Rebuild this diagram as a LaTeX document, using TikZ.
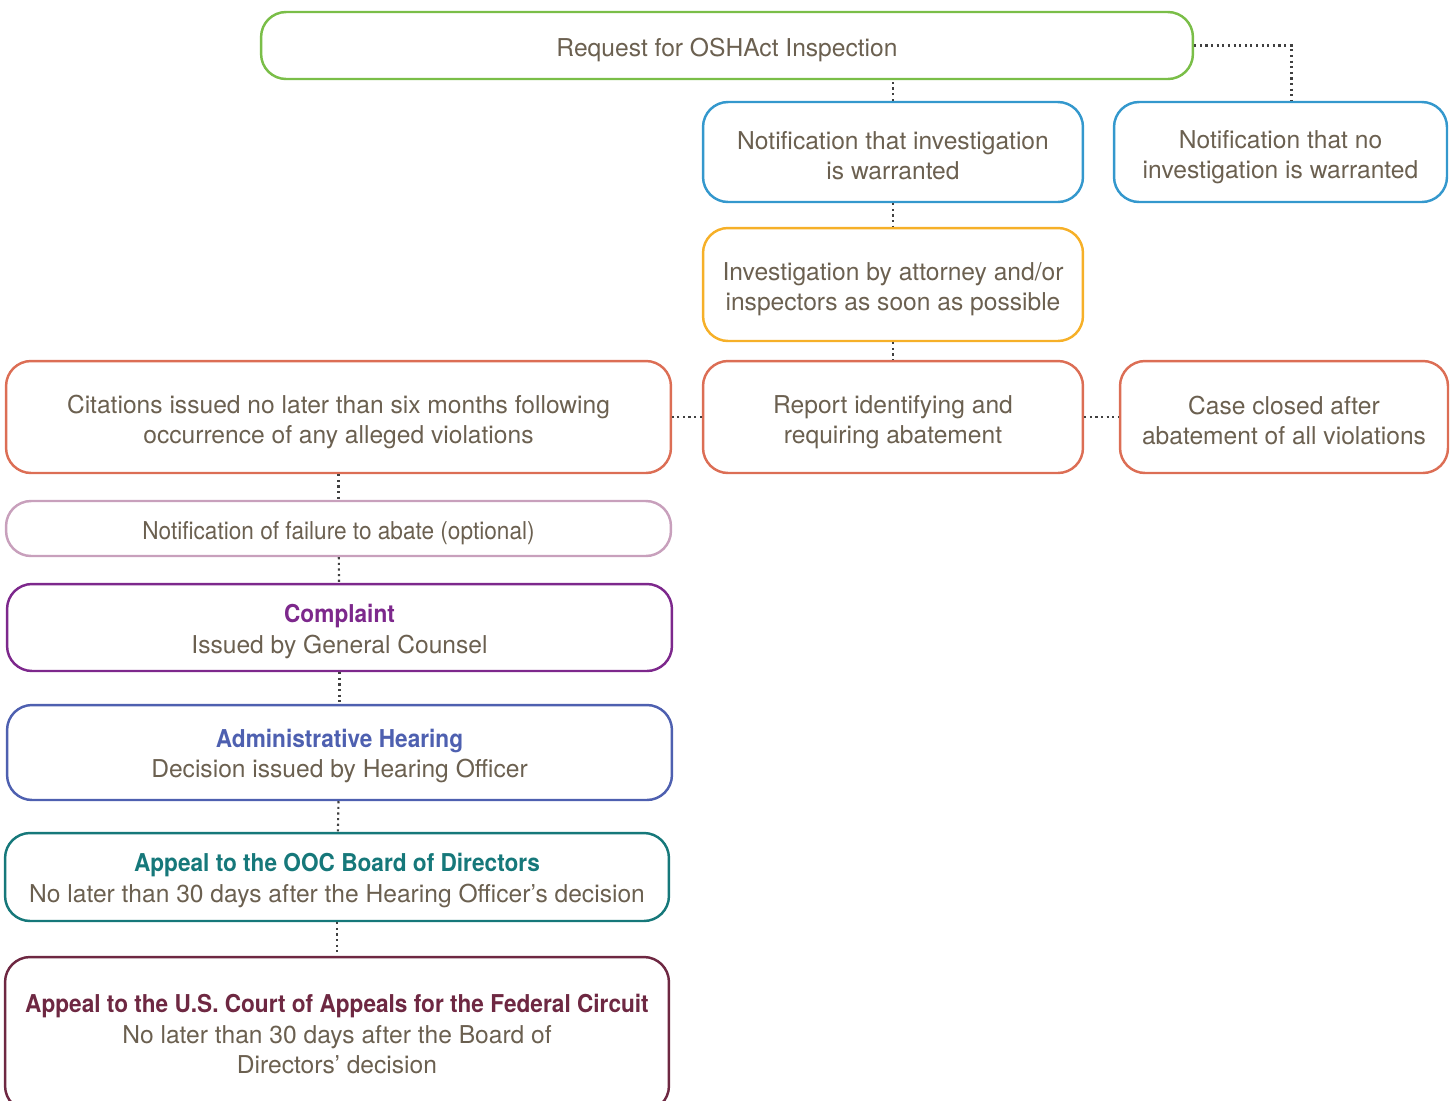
\documentclass[tikz,border=0pt]{standalone}
\usepackage{fontspec}
\setmainfont{TeX Gyre Heros}
\newfontfamily\condfont[FakeStretch=0.92]{TeX Gyre Heros}
\usetikzlibrary{positioning}
\definecolor{txtgray}{RGB}{107,96,80}
\definecolor{reqgreen}{RGB}{122,190,72}
\definecolor{notblue}{RGB}{52,152,205}
\definecolor{invorange}{RGB}{246,176,40}
\definecolor{repred}{RGB}{220,110,85}
\definecolor{failmauve}{RGB}{200,160,188}
\definecolor{cplpurple}{RGB}{125,40,140}
\definecolor{hearblue}{RGB}{78,96,176}
\definecolor{oocteal}{RGB}{22,120,122}
\definecolor{courtred}{RGB}{110,40,66}
\newcommand{\hd}[2]{{\condfont\bfseries\color{#1}#2}\\[0.6pt]}

\begin{document}
\begin{tikzpicture}[x=0.02cm,y=-0.02cm,font=\fontsize{14}{17}\selectfont\color{txtgray},
  stage/.style={draw,rounded corners=0.5cm,line width=1.4pt,align=center,inner sep=0pt,
    execute at begin node={\rule{0pt}{#1}}},
  stage/.default=16pt,
  link/.style={dotted,line width=1.2pt,draw=black!75}]
  \useasboundingbox (0,0) rectangle (1453,1100);
  \clip (0,0) rectangle (1453,1100);
  % top branch
  \node[stage,draw=reqgreen,minimum width=18.64cm,minimum height=1.34cm] (req) at (727,45.5) {Request for OSHAct Inspection};
  \node[stage=31pt,draw=notblue,minimum width=7.6cm,minimum height=2cm] (warr) at (893,152) {Notification that investigation\\is warranted};
  \node[stage=33pt,draw=notblue,minimum width=6.66cm,minimum height=2cm] (nowarr) at (1280.5,152) {Notification that no\\investigation is warranted};
  \node[stage=33pt,draw=invorange,minimum width=7.6cm,minimum height=2.26cm] (inv) at (893,284.5) {Investigation by attorney and/or\\inspectors as soon as possible};
  \node[stage=33pt,draw=repred,minimum width=7.6cm,minimum height=2.24cm] (rep) at (893,417) {Report identifying and\\requiring abatement};
  \node[stage=31pt,draw=repred,minimum width=6.56cm,minimum height=2.24cm] (closed) at (1284,417) {Case closed after\\abatement of all violations};
  % left column
  \node[stage=33pt,draw=repred,minimum width=13.3cm,minimum height=2.24cm] (cit) at (338.5,417) {Citations issued no later than six months following\\occurrence of any alleged violations};
  \node[stage,draw=failmauve,minimum width=13.3cm,minimum height=1.1cm] (fail) at (338.5,528.5) {\condfont Notification of failure to abate (optional)};
  \node[stage=33pt,draw=cplpurple,minimum width=13.3cm,minimum height=1.74cm] (cpl) at (339.5,627.5) {\hd{cplpurple}{Complaint}Issued by General Counsel};
  \node[stage=32pt,draw=hearblue,minimum width=13.3cm,minimum height=1.9cm] (hear) at (339.5,752.5) {\hd{hearblue}{Administrative Hearing}Decision issued by Hearing Officer};
  \node[stage=32pt,draw=oocteal,minimum width=13.28cm,minimum height=1.76cm] (ooc) at (337,877) {\hd{oocteal}{Appeal to the OOC Board of Directors}No later than 30 days after the Hearing Officer’s decision};
  \node[stage,draw=courtred,minimum width=13.28cm,minimum height=3.08cm] (court) at (337,1034) {\hd{courtred}{Appeal to the U.S. Court of Appeals for the Federal Circuit}No later than 30 days after the Board of\\Directors’ decision};
  % links
  \draw[link] (warr.north) -- (warr.north |- req.south);
  \draw[link] (req.east) -| ([xshift=0.22cm]nowarr.north);
  \draw[link] (warr) -- (inv);
  \draw[link] (inv) -- (rep);
  \draw[link] (rep) -- (cit);
  \draw[link] (rep) -- (closed);
  \draw[link] (cit) -- (fail);
  \draw[link] (fail) -- (cpl);
  \draw[link] (cpl) -- (hear);
  \draw[link] (hear) -- (ooc);
  \draw[link] (ooc) -- (court);
\end{tikzpicture}
\end{document}
